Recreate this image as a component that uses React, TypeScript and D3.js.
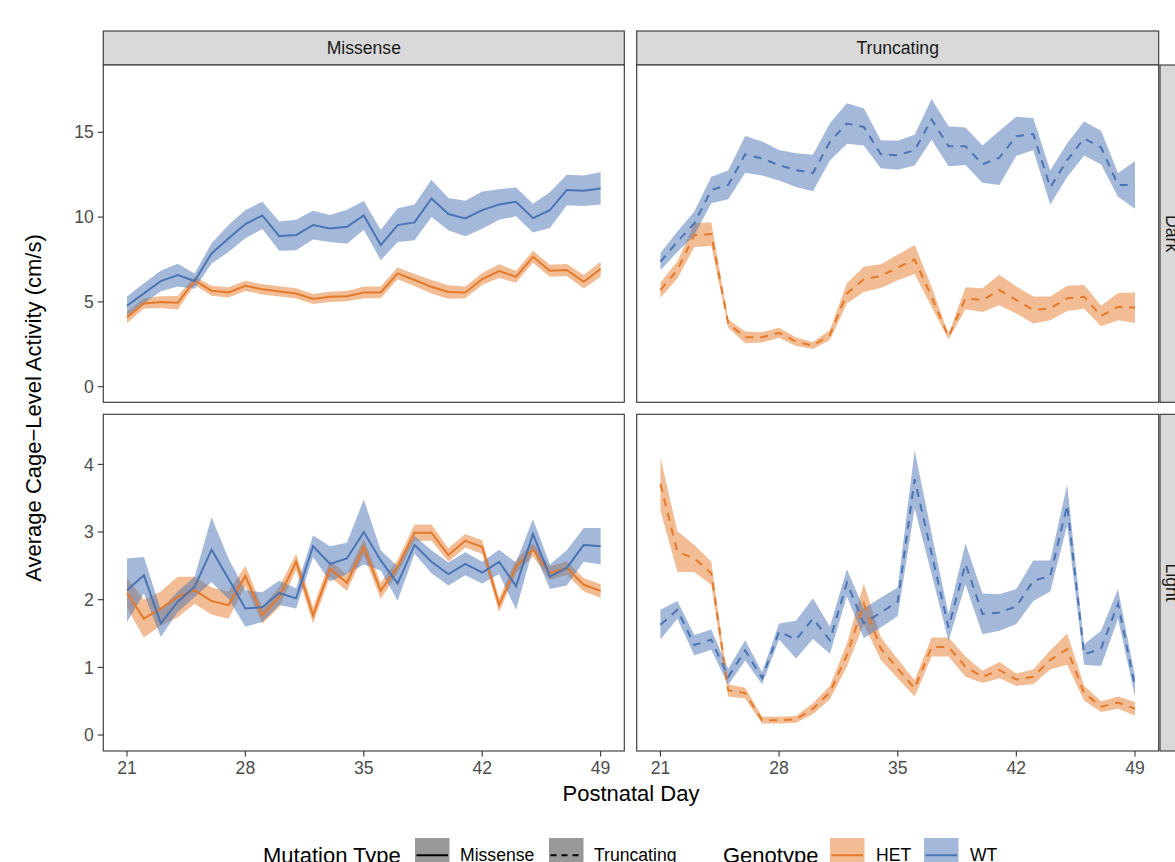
import React from "react";
import * as d3 from "d3";

const days = [21,22,23,24,25,26,27,28,29,30,31,32,33,34,35,36,37,38,39,40,41,42,43,44,45,46,47,48,49];
const xTicks = [21, 28, 35, 42, 49];
const yTicksDark = [0, 5, 10, 15];
const yTicksLight = [0, 1, 2, 3, 4];
const mutationTypes = ["Missense", "Truncating"];
const phases = ["Dark", "Light"];
const genotypes = ["HET", "WT"];

// Missense / Dark
const missenseDarkWT = [4.77,5.5,6.23,6.58,6.23,7.86,8.74,9.59,10.1,8.88,8.94,9.53,9.33,9.43,10.1,8.35,9.53,9.69,11.1,10.18,9.92,10.41,10.75,10.9,9.94,10.41,11.6,11.55,11.69];
const missenseDarkWTse = [0.55,0.6,0.6,0.67,0.45,0.6,0.8,0.83,0.8,0.86,0.9,0.85,0.8,1.0,0.85,0.9,1.0,1.05,1.1,0.95,1.05,1.1,0.9,0.85,0.85,1.05,0.9,0.9,0.95];
const missenseDarkHET = [4.09,4.91,4.99,4.95,6.25,5.66,5.56,5.95,5.74,5.62,5.5,5.17,5.3,5.34,5.56,5.56,6.68,6.29,5.89,5.58,5.56,6.35,6.82,6.48,7.66,6.84,6.88,6.19,6.94];
const missenseDarkHETse = [0.35,0.3,0.35,0.4,0.25,0.3,0.3,0.3,0.3,0.3,0.3,0.3,0.3,0.3,0.35,0.35,0.35,0.35,0.4,0.4,0.35,0.35,0.4,0.35,0.35,0.35,0.35,0.4,0.45];

// Truncating / Dark
const truncDarkWT = [7.37,8.55,9.63,11.6,11.9,13.7,13.46,13.06,12.77,12.6,14.44,15.52,15.32,13.71,13.65,13.95,15.76,14.18,14.18,13.12,13.5,14.77,14.9,11.75,13.36,14.64,14.1,11.9,11.9];
const truncDarkWTse = [0.51,0.6,0.7,0.78,0.85,1.08,1.0,0.9,1.0,1.08,1.1,1.2,1.1,0.83,0.85,0.9,1.2,1.18,1.1,1.1,1.6,1.15,0.95,1.0,1.0,1.0,1.0,0.7,1.4];
const truncDarkHET = [5.7,6.88,8.94,9.0,3.73,2.91,2.91,3.18,2.65,2.42,3.05,5.5,6.33,6.52,7.03,7.5,5.3,2.95,5.21,5.11,5.7,5.11,4.52,4.62,5.21,5.3,4.17,4.72,4.66];
const truncDarkHETse = [0.45,0.5,0.7,0.7,0.25,0.35,0.3,0.3,0.25,0.2,0.3,0.6,0.75,0.7,0.75,0.85,0.6,0.15,0.65,0.7,0.9,0.8,0.8,0.7,0.75,0.7,0.6,0.8,0.9];

// Missense / Light
const missenseLightWT = [2.14,2.36,1.65,1.97,2.19,2.74,2.31,1.87,1.89,2.1,2.02,2.79,2.53,2.61,3.0,2.58,2.24,2.81,2.56,2.38,2.53,2.4,2.56,2.2,2.97,2.34,2.47,2.81,2.79];
const missenseLightWTse = [0.47,0.27,0.2,0.15,0.15,0.48,0.3,0.27,0.22,0.18,0.15,0.16,0.26,0.23,0.48,0.15,0.25,0.13,0.17,0.17,0.17,0.16,0.18,0.35,0.22,0.18,0.26,0.25,0.27];
const missenseLightHET = [2.1,1.72,1.87,2.04,2.14,1.98,1.92,2.35,1.77,2.04,2.56,1.77,2.46,2.25,2.78,2.13,2.49,2.99,2.99,2.66,2.87,2.78,1.92,2.49,2.74,2.39,2.47,2.22,2.13];
const missenseLightHETse = [0.22,0.28,0.25,0.3,0.2,0.2,0.2,0.15,0.12,0.15,0.12,0.12,0.12,0.12,0.12,0.12,0.1,0.12,0.12,0.1,0.1,0.1,0.1,0.1,0.1,0.1,0.1,0.1,0.1];

// Truncating / Light
const truncLightWT = [1.63,1.85,1.33,1.41,0.86,1.25,0.84,1.53,1.41,1.72,1.4,2.25,1.65,1.81,1.97,3.78,2.68,1.59,2.53,1.79,1.81,1.9,2.28,2.35,3.4,1.19,1.28,1.94,0.72];
const truncLightWTse = [0.22,0.13,0.15,0.15,0.12,0.15,0.09,0.12,0.28,0.3,0.2,0.2,0.22,0.22,0.21,0.43,0.3,0.2,0.3,0.3,0.27,0.26,0.3,0.23,0.3,0.15,0.26,0.22,0.15];
const truncLightHET = [3.71,2.71,2.61,2.39,0.66,0.62,0.22,0.22,0.23,0.39,0.63,1.18,1.94,1.28,0.98,0.69,1.3,1.3,1.01,0.86,0.96,0.82,0.86,1.11,1.27,0.62,0.42,0.48,0.39];
const truncLightHETse = [0.39,0.3,0.2,0.17,0.09,0.08,0.05,0.05,0.05,0.08,0.1,0.17,0.3,0.17,0.14,0.12,0.14,0.14,0.15,0.09,0.12,0.09,0.11,0.14,0.23,0.11,0.08,0.09,0.1];

const series = {
  "Missense|Dark": { HET: [missenseDarkHET, missenseDarkHETse], WT: [missenseDarkWT, missenseDarkWTse] },
  "Truncating|Dark": { HET: [truncDarkHET, truncDarkHETse], WT: [truncDarkWT, truncDarkWTse] },
  "Missense|Light": { HET: [missenseLightHET, missenseLightHETse], WT: [missenseLightWT, missenseLightWTse] },
  "Truncating|Light": { HET: [truncLightHET, truncLightHETse], WT: [truncLightWT, truncLightWTse] },
};

const COLORS: Record<string, string> = { HET: "#E5792A", WT: "#4A74B4" };
const FONT = "'Liberation Sans', Arial, Helvetica, sans-serif";

const colX = [[103.3, 624.3], [636.7, 1158.7]];
const rowY = [[65, 402.3], [414.3, 751]];
const yDomains = [[-0.92, 18.97], [-0.236, 4.74]];
const yTicksByRow = [yTicksDark, yTicksLight];

export default function App() {
  const panels: JSX.Element[] = [];
  const lines: JSX.Element[] = [];

  phases.forEach((phase, r) => {
    mutationTypes.forEach((mt, c) => {
      const x = d3.scaleLinear().domain([19.6, 50.4]).range(colX[c]);
      const y = d3.scaleLinear().domain(yDomains[r]).range([rowY[r][1], rowY[r][0]]);
      const s = (series as any)[`${mt}|${phase}`];
      const dash = mt === "Truncating" ? "8,7" : undefined;
      const ribbons: JSX.Element[] = [];
      const ls: JSX.Element[] = [];
      genotypes.forEach((g) => {
        const [mean, se] = s[g];
        const pts = days.map((d, i) => ({ d, m: mean[i], lo: mean[i] - se[i], hi: mean[i] + se[i] }));
        const area = d3.area<any>().x((p) => x(p.d)).y0((p) => y(p.lo)).y1((p) => y(p.hi));
        const line = d3.line<any>().x((p) => x(p.d)).y((p) => y(p.m));
        ribbons.push(<path key={`rb-${g}`} d={area(pts) || ""} fill={COLORS[g]} fillOpacity={0.5} stroke="none" />);
        ls.push(<path key={`ln-${g}`} d={line(pts) || ""} fill="none" stroke={COLORS[g]} strokeWidth={2} strokeDasharray={dash} />);
      });
      panels.push(
        <g key={`p-${r}-${c}`}>
          <rect x={colX[c][0]} y={rowY[r][0]} width={colX[c][1] - colX[c][0]} height={rowY[r][1] - rowY[r][0]} fill="white" />
          {ribbons}
          {ls}
          <rect x={colX[c][0]} y={rowY[r][0]} width={colX[c][1] - colX[c][0]} height={rowY[r][1] - rowY[r][0]} fill="none" stroke="#333" strokeWidth={1.1} />
          {c === 0 && yTicksByRow[r].map((t) => (
            <g key={`yt-${t}`}>
              <line x1={colX[0][0] - 5.5} x2={colX[0][0]} y1={y(t)} y2={y(t)} stroke="#333" strokeWidth={1.1} />
              <text x={colX[0][0] - 9.5} y={y(t)} dy="0.35em" textAnchor="end" fontSize={17.6} fill="#4d4d4d" fontFamily={FONT}>{t}</text>
            </g>
          ))}
          {r === 1 && xTicks.map((t) => (
            <g key={`xt-${t}`}>
              <line x1={x(t)} x2={x(t)} y1={rowY[1][1]} y2={rowY[1][1] + 5.5} stroke="#333" strokeWidth={1.1} />
              <text x={x(t)} y={rowY[1][1] + 10} dy="0.75em" textAnchor="middle" fontSize={17.6} fill="#4d4d4d" fontFamily={FONT}>{t}</text>
            </g>
          ))}
        </g>
      );
    });
  });

  const legendKeys = [
    { x: 415, fill: "#999999", stroke: "#000", dash: undefined as string | undefined },
    { x: 549, fill: "#999999", stroke: "#000", dash: "6,5" },
    { x: 830, fill: COLORS.HET, stroke: COLORS.HET, dash: undefined },
    { x: 924, fill: COLORS.WT, stroke: COLORS.WT, dash: undefined },
  ];
  const legendLabels = [
    { x: 460, t: "Missense" },
    { x: 594, t: "Truncating" },
    { x: 876, t: "HET" },
    { x: 970, t: "WT" },
  ];
  const keyTop = 838;
  const keySize = 34.5;
  const keyMid = keyTop + keySize / 2;

  return (
    <svg width={1175} height={862} style={{ position: "absolute", left: 0, top: 0, background: "white" }}>
      <rect x={0} y={0} width={1175} height={862} fill="white" />
      {/* top strips */}
      {mutationTypes.map((mt, c) => (
        <g key={`st-${mt}`}>
          <rect x={colX[c][0]} y={31} width={colX[c][1] - colX[c][0]} height={34} fill="#d9d9d9" stroke="#333" strokeWidth={1.1} />
          <text x={(colX[c][0] + colX[c][1]) / 2} y={48} dy="0.35em" textAnchor="middle" fontSize={17.6} fill="#1a1a1a" fontFamily={FONT}>{mt}</text>
        </g>
      ))}
      {/* right strips */}
      {phases.map((ph, r) => (
        <g key={`sr-${ph}`}>
          <rect x={1160} y={rowY[r][0]} width={34} height={rowY[r][1] - rowY[r][0]} fill="#d9d9d9" stroke="#333" strokeWidth={1.1} />
          <text transform={`translate(1166, ${(rowY[r][0] + rowY[r][1]) / 2}) rotate(90)`} textAnchor="middle" fontSize={17.6} fill="#1a1a1a" fontFamily={FONT}>{ph}</text>
        </g>
      ))}
      {panels}
      {lines}
      {/* axis titles */}
      <text x={(colX[0][0] + colX[1][1]) / 2} y={793} dy="0.35em" textAnchor="middle" fontSize={22} fill="#000" fontFamily={FONT}>Postnatal Day</text>
      <text transform={`translate(33, ${(rowY[0][0] + rowY[1][1]) / 2}) rotate(-90)`} dy="0.35em" textAnchor="middle" fontSize={22} fill="#000" fontFamily={FONT}>Average Cage−Level Activity (cm/s)</text>
      {/* legend */}
      <text x={263} y={keyMid} dy="0.35em" fontSize={22} fill="#000" fontFamily={FONT}>Mutation Type</text>
      <text x={723} y={keyMid} dy="0.35em" fontSize={22} fill="#000" fontFamily={FONT}>Genotype</text>
      {legendKeys.map((k, i) => (
        <g key={`lk-${i}`}>
          <rect x={k.x} y={keyTop} width={keySize} height={keySize} fill={k.fill} fillOpacity={k.fill === "#999999" ? 1 : 0.5} />
          <line x1={k.x + 1.5} x2={k.x + keySize - 1.5} y1={keyMid} y2={keyMid} stroke={k.stroke} strokeWidth={2} strokeDasharray={k.dash} />
        </g>
      ))}
      {legendLabels.map((l) => (
        <text key={`ll-${l.t}`} x={l.x} y={keyMid} dy="0.35em" fontSize={17.6} fill="#000" fontFamily={FONT}>{l.t}</text>
      ))}
    </svg>
  );
}
